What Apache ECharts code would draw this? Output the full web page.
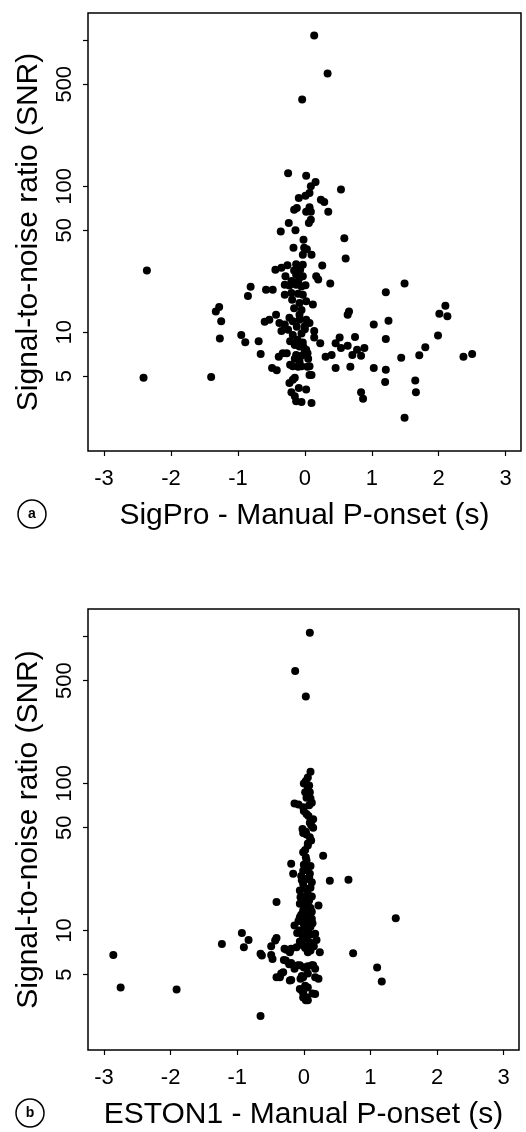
<!DOCTYPE html>
<html>
<head>
<meta charset="utf-8">
<script src="https://cdn.jsdelivr.net/npm/echarts@6/dist/echarts.min.js"></script>
<style>
html,body{margin:0;padding:0;background:#fff;}
#chart{width:526px;height:1132px;}
</style>
</head>
<body>
<div id="chart"></div>
<script>
// ---- data (x = automatic - manual P-onset in s, y = SNR) ----
const sigproPoints = [
  [0.14,1077],[0.34,592],[-0.04,393],
  [-0.25,123],[0.02,118],[0.16,107],[0.09,100],[0.54,95],[0.07,90],[0.01,86],[-0.09,83],[0.24,81],[0.29,78],
  [-0.12,71],[-0.16,69],[0.07,72],[0.02,67],[0.09,67],[0.35,67],[0.09,59],[0.06,56],[-0.24,56],[-0.36,49],
  [-0.14,50],[0.59,44],[-0.02,43],[-0.17,38],[-0.01,38],[0.03,37],[-0.03,34],[0.10,34],[0.61,32],
  [-2.36,26.5],[0.26,28.7],[-0.44,26.8],[-0.35,27.7],[-0.26,28.8],[-0.13,29.3],[-0.03,29],
  [-0.29,24.2],[-0.13,24.8],[-0.08,23.6],[-0.03,24.2],[0.17,24.2],[0.20,23],[-0.30,21.2],[-0.23,20.9],
  [-0.13,21.2],[-0.05,20.6],[0.01,21],[0.38,21.6],[-0.81,20.5],[-0.58,19.6],[-0.48,19.6],[-0.85,17.7],
  [-0.30,18.1],[-0.20,18.6],[-0.10,18.4],[-0.03,18.1],
  [-0.19,16.7],[-0.08,15.9],[0.02,16.3],[0.12,15.5],[-0.43,13.2],[-0.23,12.6],[-0.18,11.9],[-0.08,13.2],
  [-0.08,12.2],[-0.60,11.8],[-0.53,12.2],[-0.38,11.6],[-0.30,11.3],[0.02,12.2],[0.07,11.6],[-0.35,10.2],
  [-0.25,10.4],[-0.18,9.6],[0.0,11.0],[0.0,10.5],[0.14,10.2],[0.14,9.2],[-0.22,8.7],[-0.15,8.2],[-0.08,8.0],
  [-0.03,8.5],[0.02,7.6],[-0.39,6.8],[-0.33,7.2],[-0.27,7.2],[-0.13,7.0],[-0.05,6.9],[0.0,7.4],[0.04,7.2],
  [-0.08,6.3],[0.07,5.85],[-0.49,5.7],[-0.42,5.5],[-0.22,6.0],[-0.18,5.85],[-0.10,5.8],[-0.05,5.85],
  [0.04,5.8],[0.07,5.1],[0.10,5.1],[0.02,4.06],[-0.09,4.16],[-0.18,4.74],[-0.23,4.5],[-0.15,4.88],
  [-0.20,3.88],[-0.15,3.65],[-0.13,3.37],[-0.05,3.33],[0.10,3.28],
  [-0.16,26.5],[-0.07,26.8],[-0.20,22.5],[-0.10,22.3],[-0.16,14.6],[-0.05,14.2],[-0.12,10.9],[-0.05,9.8],
  [-0.11,8.9],[-0.02,7.9],[0.05,6.6],[-0.15,6.6],
  [-1.28,14.9],[-1.33,13.9],[-1.25,11.9],[-1.27,9.06],[-0.95,9.6],[-0.89,8.55],[-0.69,8.67],[-0.66,7.1],
  [-2.41,4.88],[-1.40,4.95],
  [1.49,21.6],[1.21,18.8],[2.10,15.2],[2.01,13.4],[2.13,12.9],[0.66,13.9],[0.64,13.2],[1.25,12],[1.03,11.3],
  [1.99,9.5],[1.21,9.0],[0.52,9.2],[0.46,8.4],[0.75,9.3],[0.23,8.4],[0.64,8.1],[0.54,7.8],[0.78,7.6],
  [0.89,7.8],[0.71,7.0],[0.84,6.9],[1.80,7.9],[0.40,7.0],[0.31,6.8],[1.71,6.95],[1.44,6.7],[2.37,6.8],
  [2.50,7.1],[0.46,5.7],[0.68,5.8],[1.03,5.7],[1.21,5.55],[1.20,4.57],[1.65,4.67],[1.66,3.88],[0.84,3.88],
  [0.87,3.5],[1.49,2.6]
];
const estonPoints = [
  [0.09,1060],[-0.13,582],[0.03,390],
  [0.10,120],[0.06,110],[0.03,104],[0.06,94],[0.02,87],[0.09,87],[0.04,80],[0.12,74],[-0.14,73],[-0.01,69],
  [0.08,71],[0.04,62],[0.14,57],[0.09,54],[-0.02,49],[0.14,50],[0.09,43],[0.06,39],[-0.01,46],[0.04,45],
  [0.00,100],[0.08,97],[0.05,84],[0.10,79],[-0.08,72],[0.00,65],[0.07,60],[0.11,52],[0.03,47],[0.11,41],
  [0.06,37.8],[0.02,35.3],[-0.01,34],[0.29,32.3],[-0.19,28.4],[-0.16,24.3],
  [0.04,29.9],[0.06,26.9],[-0.01,25.5],[0.09,24.3],[0.04,22.4],[-0.01,20.7],[0.12,21.3],[0.02,19.2],
  [0.39,21.8],[0.67,22.1],[-0.41,15.6],[1.38,12.1],[0.22,14.8],
  [-0.06,18.7],[0.06,17.7],[0.02,16.4],[-0.06,15.2],[0.06,14.8],[-0.01,13.7],[0.09,13],[-0.06,12.3],
  [0.02,11.4],[0.12,12],[-0.14,10.8],[-0.06,10],[0.06,10],[0.17,9.5],[0.19,8.6],[-0.01,8.8],[0.12,8.1],
  [0.24,7.1],[-0.26,7.4],
  [0.0,28],[0.05,26],[0.08,23],[-0.03,22],[0.10,19.5],[-0.02,17],[0.08,16],[0.0,14],[0.10,14.2],
  [-0.04,12.8],[0.06,11.8],[0.0,11],[0.10,10.6],[-0.02,9.3],[0.05,9],[0.09,8.3],[-0.06,8.4],[0.02,7.6],[0.10,7.3],
  [0.03,31.5],[0.10,27.5],[-0.04,23.5],[0.12,17],[-0.05,16.8],[0.04,15.5],[0.12,13.4],[0.03,12.6],[-0.08,11.6],
  [0.13,11.2],[0.04,10.4],[-0.10,9.6],[0.10,9.4],[0.15,7.8],
  [-0.19,7.5],[-0.11,7.7],[-0.01,7.9],[0.06,7.1],
  [-0.27,6.25],[-0.19,6.0],[-0.09,5.8],[0.02,5.6],[0.12,5.8],[0.17,5.5],[-0.31,5.2],[-0.36,4.8],
  [-0.19,4.6],[-0.01,4.8],[0.06,5.1],[0.22,4.7],[-0.03,3.9],[0.06,4.1],[0.17,3.7],[-0.01,3.5],[0.06,3.35],
  [-0.93,9.6],[-0.83,8.6],[-0.90,7.7],[-1.23,8.1],[-0.41,8.9],[-0.43,8.55],[-0.49,7.8],[-2.86,6.8],
  [-0.65,6.95],[-0.63,6.77],[-0.49,6.8],[-0.47,6.4],[-0.29,7.5],[-0.21,7.1],[-0.30,6.3],[-0.22,5.9],
  [-0.14,5.5],[-0.06,5.8],[0.0,5.6],[0.06,5.7],[0.14,5.8],[0.74,7.0],[1.10,5.6],[1.17,4.5],[-0.34,5.1],
  [-0.41,4.8],[-0.21,4.57],[-0.03,4.9],[-0.05,4.7],[0.17,4.8],[-2.75,4.1],[-1.91,3.96],[-0.06,4.0],
  [-0.01,3.75],[0.04,3.52],[0.13,3.72],[0.03,3.35],[0.02,4.2],[-0.65,2.62]
];
const xTickValues = [-3, -2, -1, 0, 1, 2, 3];
const yTickValues = [5, 10, 50, 100, 500, 1000];
const yLabelValues = [5, 10, 50, 100, 500];
const xRange = [-3.24, 3.23];
const snrRange = [1.538, 1538];
const xTitles = ['SigPro - Manual P-onset (s)', 'ESTON1 - Manual P-onset (s)'];
const yTitle = 'Signal-to-noise ratio (SNR)';
const panelTags = ['a', 'b'];

// ---- chart ----
const FONT = '"Liberation Sans", Arial, Helvetica, sans-serif';
const chart = echarts.init(document.getElementById('chart'), null, {renderer: 'canvas'});
const grids = [
  {left: 88, top: 13, width: 433, height: 438},
  {left: 88, top: 609, width: 431, height: 441}
];
const xAxes = [], yAxes = [], series = [];
grids.forEach((g, i) => {
  Object.assign(g, {show: true, borderColor: '#000', borderWidth: 1.5, containLabel: false});
  xAxes.push({
    type: 'value', gridIndex: i, min: xRange[0], max: xRange[1],
    axisLine: {show: false}, splitLine: {show: false},
    axisTick: {show: true, length: 5, inside: false, customValues: xTickValues, lineStyle: {color: '#000', width: 1.2}},
    axisLabel: {show: true, customValues: xTickValues, margin: 17, color: '#000', fontSize: 22, fontFamily: FONT},
    name: xTitles[i], nameLocation: 'middle', nameGap: 50,
    nameTextStyle: {color: '#000', fontSize: 30, fontFamily: FONT}
  });
  // log axis used for the data
  yAxes.push({
    type: 'log', logBase: 10, gridIndex: i, min: snrRange[0], max: snrRange[1], show: false,
    splitLine: {show: false}
  });
  // companion axis in log10 units carrying the ticks/labels
  yAxes.push({
    type: 'value', gridIndex: i, position: 'left',
    min: Math.log10(snrRange[0]), max: Math.log10(snrRange[1]),
    axisLine: {show: false}, splitLine: {show: false},
    axisTick: {show: true, length: 5, inside: false, customValues: yTickValues.map(v => Math.log10(v)), lineStyle: {color: '#000', width: 1.2}},
    axisLabel: {show: true, rotate: 90, margin: 12, customValues: yLabelValues.map(v => Math.log10(v)),
      formatter: v => String(Math.round(Math.pow(10, v))), color: '#000', fontSize: 22, fontFamily: FONT},
    name: yTitle, nameLocation: 'middle', nameRotate: 90, nameGap: 44,
    nameTextStyle: {color: '#000', fontSize: 30, fontFamily: FONT}
  });
  series.push({
    type: 'scatter', xAxisIndex: i, yAxisIndex: i * 2,
    data: i === 0 ? sigproPoints : estonPoints,
    symbol: 'circle', symbolSize: 8,
    itemStyle: {color: '#000', opacity: 1},
    silent: true, animation: false
  });
});

const graphic = [
  {type: 'circle', shape: {cx: 32, cy: 514, r: 14}, style: {fill: '#fff', stroke: '#000', lineWidth: 1.5}},
  {type: 'text', x: 32, y: 514, style: {text: panelTags[0], fill: '#000', font: 'bold 14px ' + FONT, align: 'center', verticalAlign: 'middle'}},
  {type: 'circle', shape: {cx: 30, cy: 1113, r: 14}, style: {fill: '#fff', stroke: '#000', lineWidth: 1.5}},
  {type: 'text', x: 30, y: 1113, style: {text: panelTags[1], fill: '#000', font: 'bold 14px ' + FONT, align: 'center', verticalAlign: 'middle'}}
];

chart.setOption({
  animation: false,
  backgroundColor: '#fff',
  grid: grids,
  xAxis: xAxes,
  yAxis: yAxes,
  series: series,
  graphic: graphic
});
</script>
</body>
</html>
